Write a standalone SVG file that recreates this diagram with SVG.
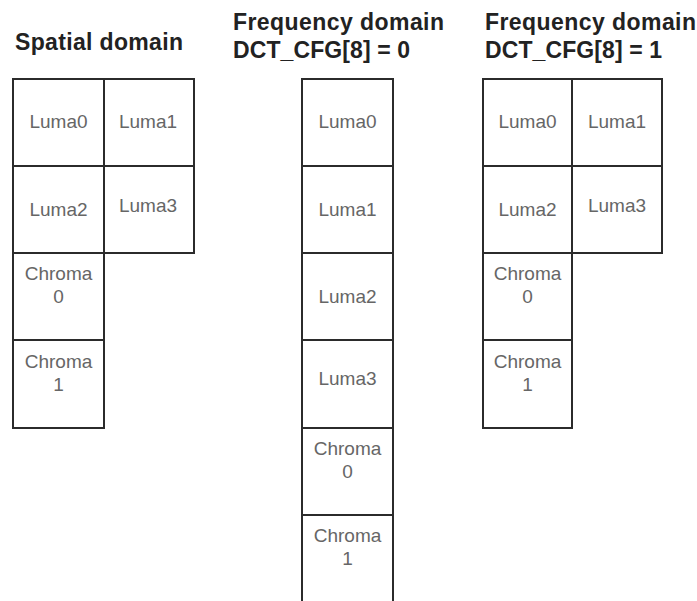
<svg xmlns="http://www.w3.org/2000/svg" width="697" height="601" viewBox="0 0 697 601">
<style>
.title{font-family:"Liberation Sans",Arial,sans-serif;font-weight:bold;font-size:23px;fill:#222}
.cell rect{fill:#fff;stroke:#2b2b2b;stroke-width:2}
.cell text{font-family:"Liberation Sans",Arial,sans-serif;font-size:19px;fill:#666;text-anchor:middle}
</style>
<rect width="697" height="601" fill="#fff"/>
<g id="titles">
<text class="title" x="15" y="50" textLength="168" lengthAdjust="spacing">Spatial domain</text>
<text class="title" x="233" y="30" textLength="211" lengthAdjust="spacing">Frequency domain</text>
<text class="title" x="233" y="58" textLength="177" lengthAdjust="spacing">DCT_CFG[8] = 0</text>
<text class="title" x="485" y="30" textLength="211" lengthAdjust="spacing">Frequency domain</text>
<text class="title" x="485" y="58" textLength="177" lengthAdjust="spacing">DCT_CFG[8] = 1</text>
</g>
<g id="spatial">
<g id="s-luma0" class="cell"><rect x="13" y="79" width="91" height="87"/><text x="58.5" y="128">Luma0</text></g>
<g id="s-luma1" class="cell"><rect x="104" y="79" width="90" height="87"/><text x="148" y="128">Luma1</text></g>
<g id="s-luma2" class="cell"><rect x="13" y="166" width="91" height="87"/><text x="58.5" y="216">Luma2</text></g>
<g id="s-luma3" class="cell"><rect x="104" y="166" width="90" height="87"/><text x="148" y="212">Luma3</text></g>
<g id="s-chroma0" class="cell"><rect x="13" y="253" width="91" height="87"/><text x="58.5" y="280">Chroma</text><text x="58.5" y="303">0</text></g>
<g id="s-chroma1" class="cell"><rect x="13" y="340" width="91" height="88"/><text x="58.5" y="368">Chroma</text><text x="58.5" y="391">1</text></g>
</g>
<g id="freq0">
<g id="f0-luma0" class="cell"><rect x="302" y="79" width="91" height="87"/><text x="347.5" y="128">Luma0</text></g>
<g id="f0-luma1" class="cell"><rect x="302" y="166" width="91" height="87"/><text x="347.5" y="216">Luma1</text></g>
<g id="f0-luma2" class="cell"><rect x="302" y="253" width="91" height="87"/><text x="347.5" y="303">Luma2</text></g>
<g id="f0-luma3" class="cell"><rect x="302" y="340" width="91" height="88"/><text x="347.5" y="385">Luma3</text></g>
<g id="f0-chroma0" class="cell"><rect x="302" y="428" width="91" height="87"/><text x="347.5" y="455">Chroma</text><text x="347.5" y="478">0</text></g>
<g id="f0-chroma1" class="cell"><rect x="302" y="515" width="91" height="90"/><text x="347.5" y="542">Chroma</text><text x="347.5" y="565">1</text></g>
</g>
<g id="freq1">
<g id="f1-luma0" class="cell"><rect x="483" y="79" width="89" height="87"/><text x="527.5" y="128">Luma0</text></g>
<g id="f1-luma1" class="cell"><rect x="572" y="79" width="90" height="87"/><text x="617" y="128">Luma1</text></g>
<g id="f1-luma2" class="cell"><rect x="483" y="166" width="89" height="87"/><text x="527.5" y="216">Luma2</text></g>
<g id="f1-luma3" class="cell"><rect x="572" y="166" width="90" height="87"/><text x="617" y="212">Luma3</text></g>
<g id="f1-chroma0" class="cell"><rect x="483" y="253" width="89" height="87"/><text x="527.5" y="280">Chroma</text><text x="527.5" y="303">0</text></g>
<g id="f1-chroma1" class="cell"><rect x="483" y="340" width="89" height="88"/><text x="527.5" y="368">Chroma</text><text x="527.5" y="391">1</text></g>
</g>
<g id="connectors"/>
</svg>
